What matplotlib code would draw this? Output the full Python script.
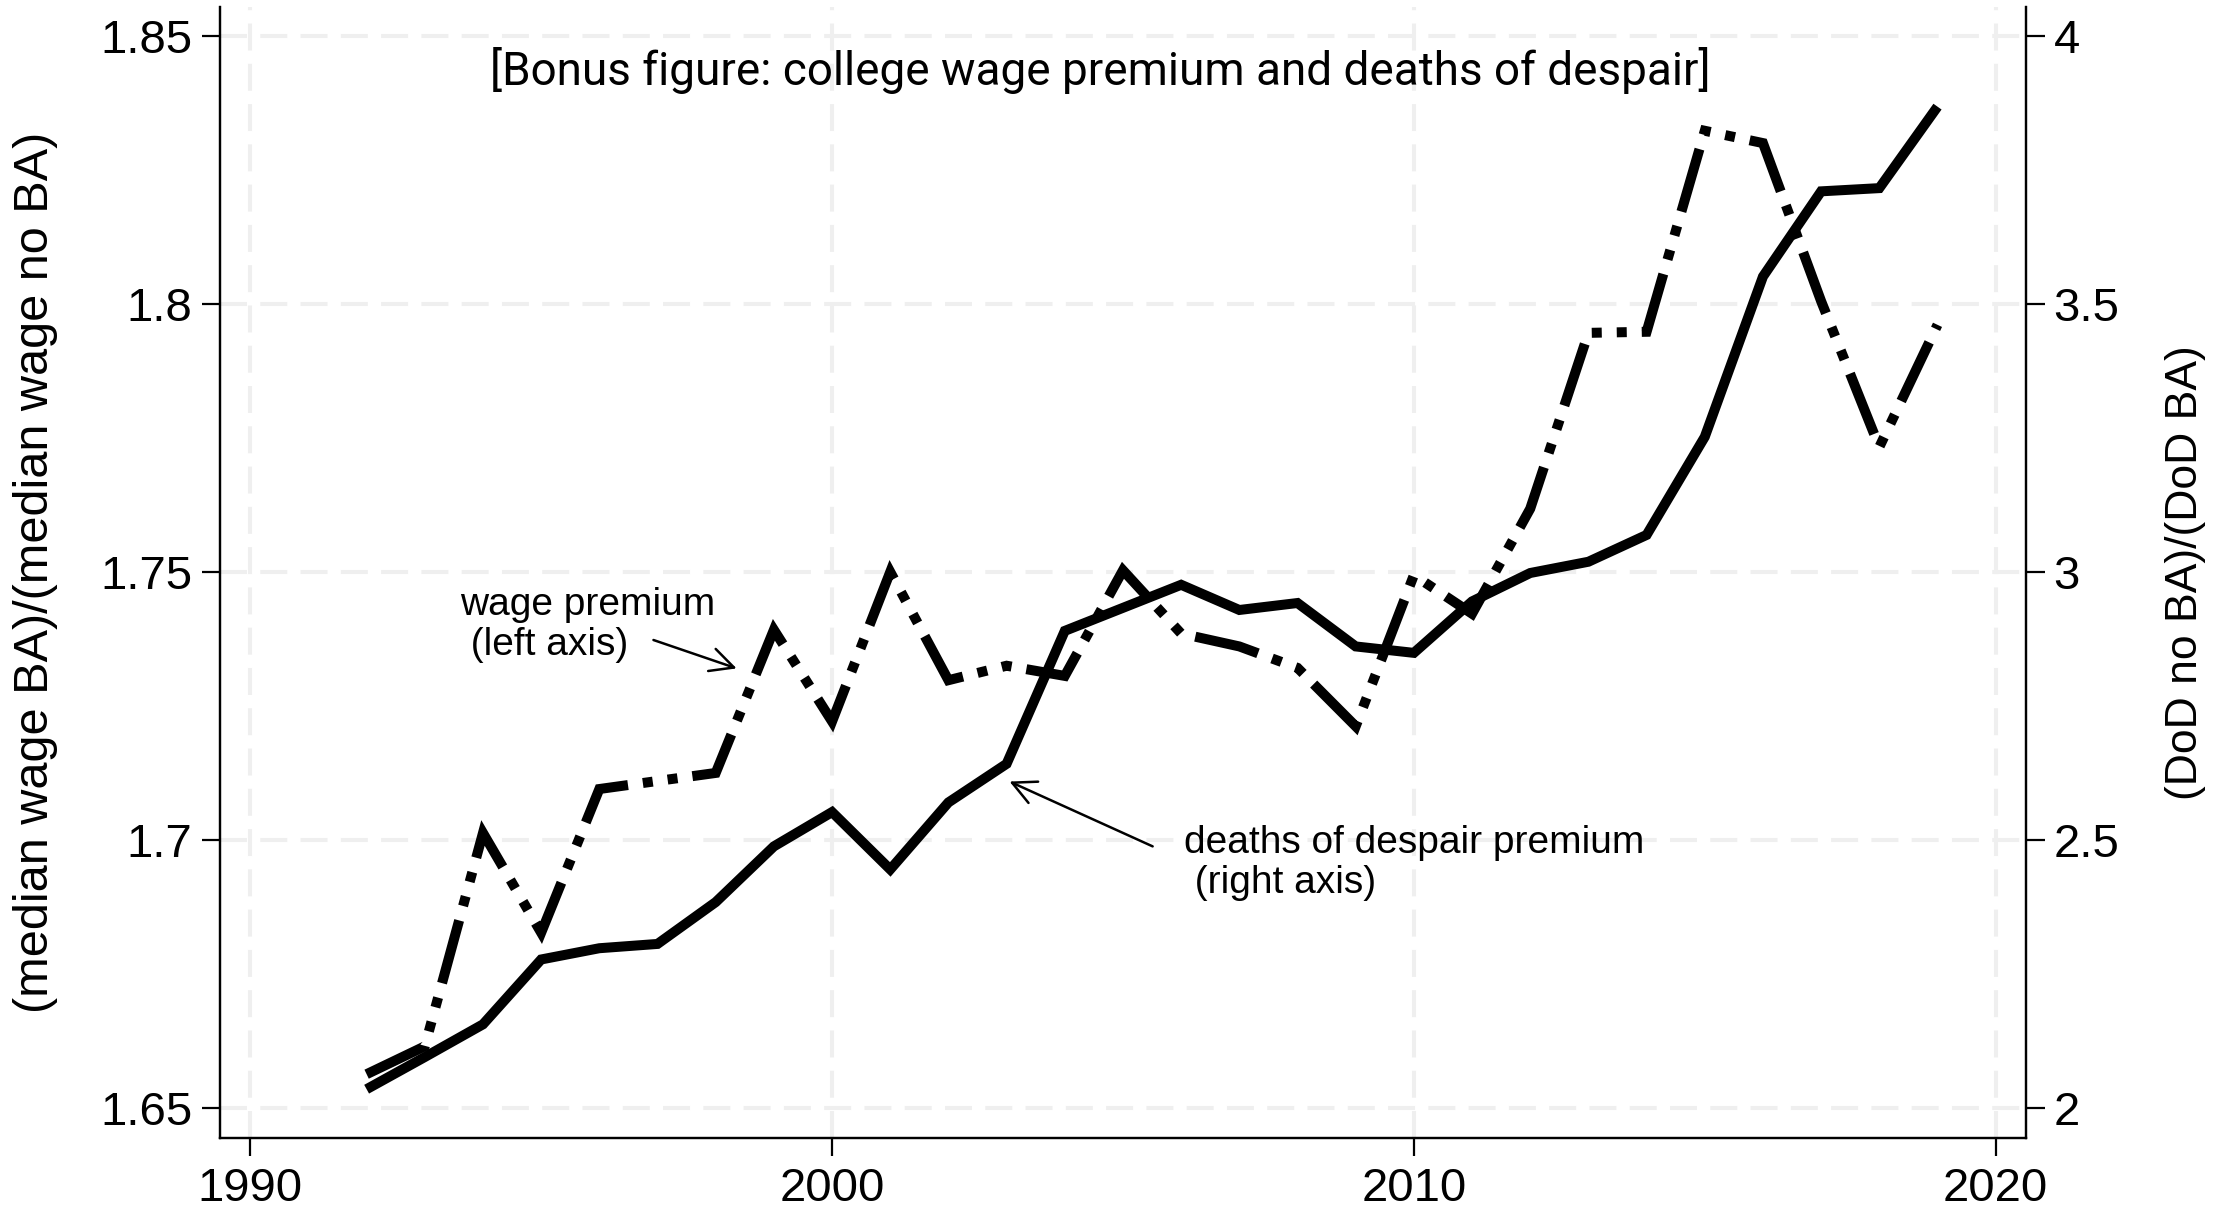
import matplotlib
matplotlib.use("Agg")
import matplotlib.pyplot as plt

# college wage premium vs deaths of despair premium, 1992-2019
years = list(range(1992, 2020))

wage_premium = [1.6563, 1.6615, 1.7013, 1.6827, 1.7095, 1.7110, 1.7125, 1.7392,
                1.7221, 1.7500, 1.7298, 1.7325, 1.7306, 1.7503, 1.7385, 1.7361,
                1.7321, 1.7212, 1.7494, 1.7422, 1.7618, 1.7946, 1.7948, 1.8323,
                1.8300, 1.8005, 1.7733, 1.7961]

dod_premium = [2.035, 2.095, 2.156, 2.277, 2.298, 2.306, 2.384, 2.488,
               2.552, 2.445, 2.570, 2.642, 2.890, 2.933, 2.976, 2.929,
               2.942, 2.861, 2.849, 2.945, 2.998, 3.019, 3.069, 3.252,
               3.551, 3.710, 3.716, 3.868]

left_ticks = [1.65, 1.7, 1.75, 1.8, 1.85]
left_labels = ["1.65", "1.7", "1.75", "1.8", "1.85"]
right_ticks = [2, 2.5, 3, 3.5, 4]
right_labels = ["2", "2.5", "3", "3.5", "4"]
x_ticks = [1990, 2000, 2010, 2020]

title = "[Bonus figure: college wage premium and deaths of despair]"
left_ylabel = "(median wage BA)/(median wage no BA)"
right_ylabel = "(DoD no BA)/(DoD BA)"

plt.rcParams['font.family'] = ['Liberation Sans', 'DejaVu Sans']

fig = plt.figure(figsize=(22.29, 12.18), dpi=100)
ax = fig.add_axes([0.0987, 0.0657, 0.8102, 0.9286])
ax2 = ax.twinx()

LW = 7.2
grid_kw = dict(color='#efefef', lw=2.9, linestyle=(0, (6.7, 3.3)))
ax.grid(True, **grid_kw)
ax.set_axisbelow(True)

ax.plot(years, wage_premium, color='black', lw=LW,
        linestyle=(0, (6.5, 1.5, 1, 1.5, 1, 1.5)),
        dash_capstyle='butt', dash_joinstyle='miter', zorder=3)
ax2.plot(years, dod_premium, color='black', lw=LW,
         solid_capstyle='butt', solid_joinstyle='miter', zorder=3)

ax.set_xlim(1989.48, 2020.52)
ax.set_ylim(1.6444, 1.8554)
ax2.set_ylim(1.944, 4.054)

ax.set_xticks(x_ticks)
ax.set_xticklabels([str(t) for t in x_ticks])
ax.set_yticks(left_ticks)
ax.set_yticklabels(left_labels)
ax2.set_yticks(right_ticks)
ax2.set_yticklabels(right_labels)

for a in (ax, ax2):
    a.spines['top'].set_visible(False)
    for s in ('left', 'right', 'bottom'):
        a.spines[s].set_linewidth(1.6)
ax.tick_params(axis='both', labelsize=34, length=13, width=1.6, direction='out')
ax.tick_params(axis='y', pad=7)
ax.tick_params(axis='x', pad=8)
ax2.tick_params(axis='y', labelsize=34, length=14, width=1.6, pad=6)

ax.set_ylabel(left_ylabel, fontsize=35, va='center')
ax.yaxis.set_label_coords(-0.1019, 0.5)
ax2.set_ylabel(right_ylabel, fontsize=32, rotation=90, va='center')
ax2.yaxis.set_label_coords(1.0886, 0.5)

ax.text(0.4875, 0.931, title, transform=ax.transAxes, ha='center', va='baseline',
        fontsize=33, family=['Roboto', 'DejaVu Sans'])

# annotations with open arrows
arrow_kw = dict(arrowstyle='->', color='black', lw=1.8,
                mutation_scale=42, shrinkA=0, shrinkB=0)
ax.text(1993.6, 1.7401, "wage premium\n (left axis)", fontsize=28,
        ha='left', va='center', linespacing=1.15)
ax.annotate("", xy=(1998.36, 1.7320), xytext=(1996.93, 1.7373), arrowprops=arrow_kw)
ax.annotate("", xy=(2003.05, 1.7109), xytext=(2005.51, 1.6988), arrowprops=arrow_kw)
ax.text(2006.05, 1.6957, "deaths of despair premium\n (right axis)", fontsize=28,
        ha='left', va='center', linespacing=1.15)

fig.savefig("out.png", dpi=100)
